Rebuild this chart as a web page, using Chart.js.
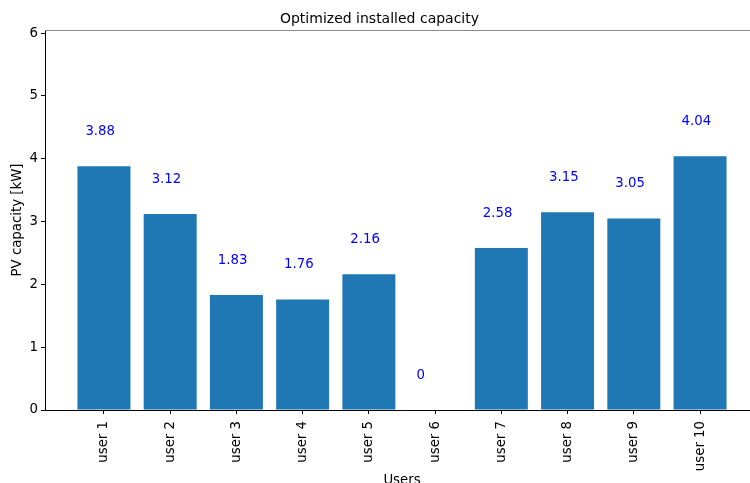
<!DOCTYPE html>
<html>
<head>
<meta charset="utf-8">
<title>Optimized installed capacity</title>
<script src="https://cdn.jsdelivr.net/npm/chart.js"></script>
<style>
    html, body { margin: 0; padding: 0; background: #fff; overflow: hidden; }
    canvas { display: block; }
</style>
</head>
<body>
<canvas id="capacity-chart" width="770" height="495"></canvas>
<script>
// ユーザーごとの最適化されたPV容量 [kW]
const users = ['user 1', 'user 2', 'user 3', 'user 4', 'user 5', 'user 6', 'user 7', 'user 8', 'user 9', 'user 10'];
const capacity = [3.88, 3.12, 1.83, 1.76, 2.16, 0, 2.58, 3.15, 3.05, 4.04];
const yTicks = [0, 1, 2, 3, 4, 5, 6];

const barColor = '#1f77b4';
const labelColor = '#0000ff';
const tickFont = { family: 'DejaVu Sans', size: 13.3 };

Chart.defaults.font.family = 'DejaVu Sans';
Chart.defaults.color = '#000';

// 棒の上に値を表示する
const valueLabels = {
    id: 'valueLabels',
    afterDatasetsDraw(chart) {
        const ctx = chart.ctx;
        const x = chart.scales.x;
        const y = chart.scales.y;
        ctx.save();
        ctx.fillStyle = labelColor;
        ctx.font = '13.3px "DejaVu Sans"';
        ctx.textAlign = 'left';
        ctx.textBaseline = 'alphabetic';
        capacity.forEach((v, i) => {
            ctx.fillText(String(v), x.getPixelForValue(i - 0.28), y.getPixelForValue(v + 0.5));
        });
        ctx.restore();
    }
};

// 上側の枠線
const topSpine = {
    id: 'topSpine',
    afterDraw(chart) {
        const { ctx, chartArea } = chart;
        ctx.save();
        ctx.strokeStyle = '#888';
        ctx.lineWidth = 1;
        ctx.beginPath();
        ctx.moveTo(chartArea.left, chartArea.top + 0.5);
        ctx.lineTo(chartArea.right, chartArea.top + 0.5);
        ctx.stroke();
        ctx.restore();
    }
};

const ctx = document.getElementById('capacity-chart').getContext('2d');

new Chart(ctx, {
    type: 'bar',
    data: {
        datasets: [{
            label: 'PV capacity',
            data: capacity.map((v, i) => ({ x: i, y: v })),
            backgroundColor: barColor,
            borderWidth: 0,
            barPercentage: 0.8,
            categoryPercentage: 1.0
        }]
    },
    options: {
        responsive: false,
        animation: false,
        layout: { padding: { top: 0, right: 11, left: 0, bottom: 0 } },
        plugins: {
            legend: { display: false },
            tooltip: { enabled: false },
            title: {
                display: true,
                text: 'Optimized installed capacity',
                color: '#000',
                font: { family: 'DejaVu Sans', size: 14, weight: 'normal' },
                padding: { top: 11, bottom: 2.2 }
            }
        },
        scales: {
            x: {
                type: 'linear',
                min: -0.89,
                max: 9.89,
                offset: false,
                afterBuildTicks(scale) {
                    scale.ticks = users.map((u, i) => ({ value: i }));
                },
                afterFit(scale) {
                    scale.height = 85;
                },
                ticks: {
                    font: tickFont,
                    color: '#000',
                    minRotation: 90,
                    maxRotation: 90,
                    autoSkip: false,
                    padding: 7,
                    callback: (value) => users[value]
                },
                grid: {
                    display: true,
                    offset: false,
                    drawOnChartArea: false,
                    drawTicks: true,
                    tickLength: 4,
                    color: '#000'
                },
                border: { display: true, color: '#000', width: 1, z: 1 },
                title: {
                    display: true,
                    text: 'Users',
                    color: '#000',
                    font: tickFont,
                    padding: { top: 0, bottom: 6 }
                }
            },
            y: {
                min: 0,
                max: 6.05,
                afterBuildTicks(scale) {
                    scale.ticks = yTicks.map(v => ({ value: v }));
                },
                afterFit(scale) {
                    scale.width = 45;
                },
                ticks: {
                    font: tickFont,
                    color: '#000',
                    padding: 3,
                    callback: (value) => String(value)
                },
                grid: {
                    display: true,
                    drawOnChartArea: false,
                    drawTicks: true,
                    tickLength: 4,
                    color: '#000'
                },
                border: { display: true, color: '#000', width: 1 },
                title: {
                    display: true,
                    text: 'PV capacity [kW]',
                    color: '#000',
                    font: tickFont,
                    padding: { top: 10, bottom: 0 }
                }
            }
        }
    },
    plugins: [valueLabels, topSpine]
});
</script>
</body>
</html>
